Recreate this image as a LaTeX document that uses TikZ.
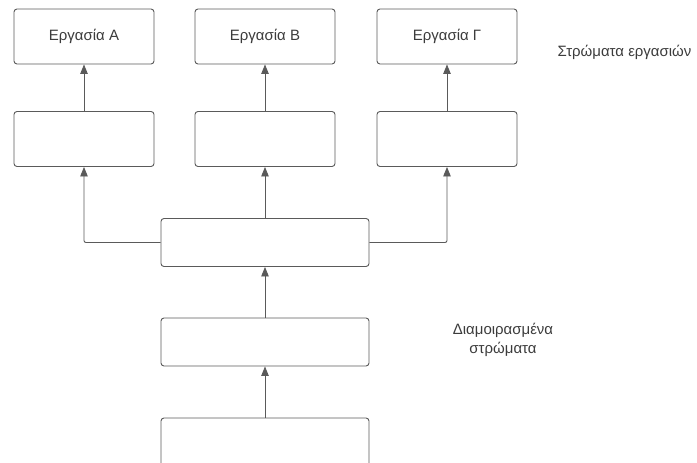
\documentclass[tikz,border=0pt]{standalone}
\usepackage{fontspec}
\setmainfont{Liberation Sans}
\usetikzlibrary{arrows.meta}
\definecolor{edgegray}{HTML}{5A5A5A}
\definecolor{textgray}{HTML}{3C3C3C}
\tikzset{
  layerbox/.style={draw=edgegray, line width=0.9pt, rounded corners=3pt, fill=white,
    minimum width=140pt, minimum height=55pt, inner sep=0pt, text=textgray,
    font=\fontsize{15}{19}\selectfont},
  widebox/.style={layerbox, minimum width=208pt, minimum height=48pt},
  link/.style={draw=edgegray, line width=0.9pt, -{Triangle[length=9.5pt,width=7.5pt]}},
  note/.style={text=textgray, font=\fontsize{15}{19}\selectfont, align=center}
}
\begin{document}
\begin{tikzpicture}[x=1pt,y=1pt]
\useasboundingbox (0,0) rectangle (697,-463);
\begin{scope}
\clip (0,0) rectangle (697,-463);
% task layer
\node[layerbox] (ta) at (84,-36.5) {Εργασία A};
\node[layerbox] (tb) at (265,-36.5) {Εργασία B};
\node[layerbox] (tc) at (447,-36.5) {Εργασία Γ};
% task-specific heads
\node[layerbox] (ha) at (84,-139) {};
\node[layerbox] (hb) at (265,-139) {};
\node[layerbox] (hc) at (447,-139) {};
% shared layers
\node[widebox] (s1) at (265,-242.5) {};
\node[widebox] (s2) at (265,-342) {};
\node[widebox, minimum height=60pt] (s3) at (265,-448) {};
% connectors
\draw[link] (ha) -- (ta);
\draw[link] (hb) -- (tb);
\draw[link] (hc) -- (tc);
\draw[link] (s1) -- (hb);
\draw[link, rounded corners=2pt] (s1.west) -| (ha.south);
\draw[link, rounded corners=2pt] (s1.east) -| (hc.south);
\draw[link] (s2) -- (s1);
\draw[link] (s3) -- (s2);
% labels
\node[note, anchor=east] (lt) at (695,-52) {Στρώματα εργασιών};
\node[note] (ls) at (503,-339.5) {Διαμοιρασμένα\\στρώματα};
\end{scope}
\end{tikzpicture}
\end{document}
